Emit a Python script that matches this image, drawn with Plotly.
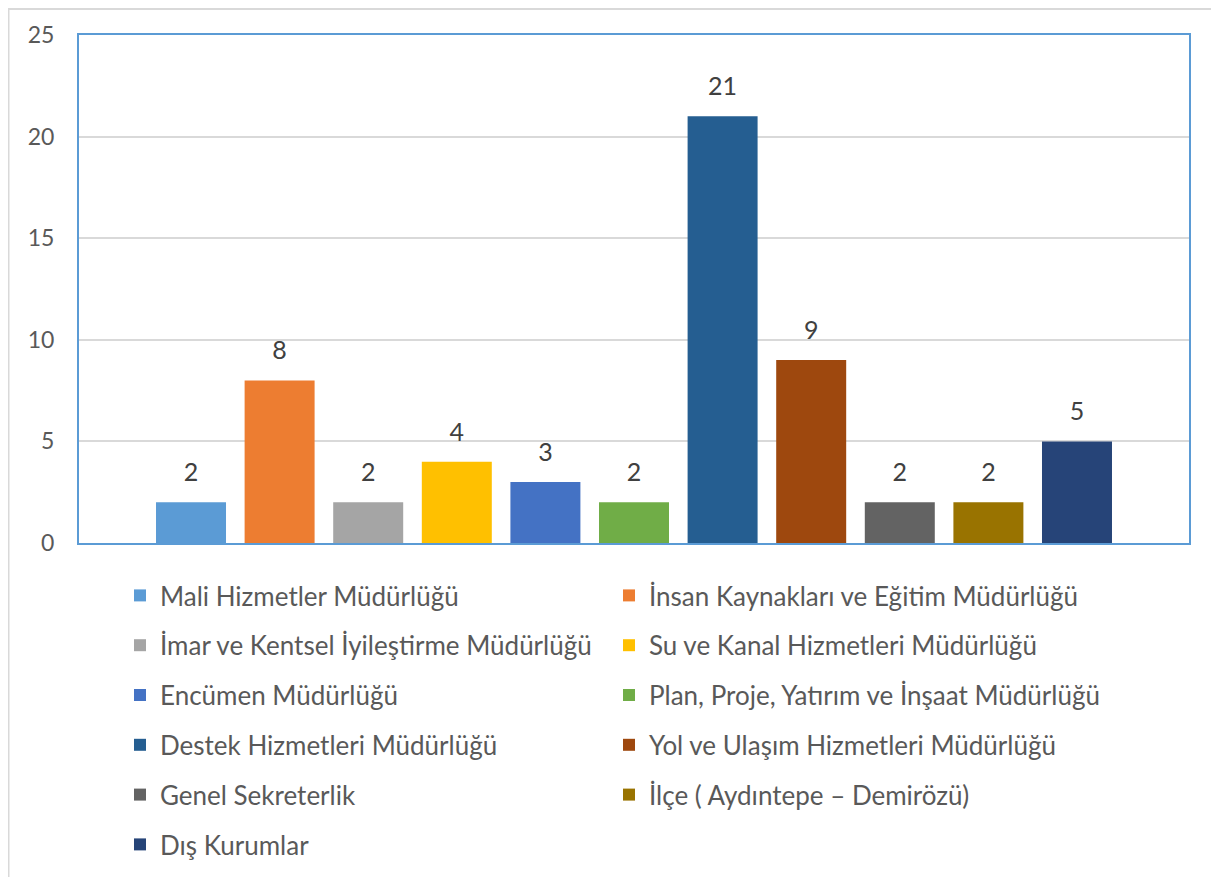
import plotly.graph_objects as go

# Departments (series) and counts
departments = [
    "Mali Hizmetler Müdürlüğü",
    "İnsan Kaynakları ve Eğitim Müdürlüğü",
    "İmar ve Kentsel İyileştirme Müdürlüğü",
    "Su ve Kanal Hizmetleri Müdürlüğü",
    "Encümen Müdürlüğü",
    "Plan, Proje, Yatırım ve İnşaat Müdürlüğü",
    "Destek Hizmetleri Müdürlüğü",
    "Yol ve Ulaşım Hizmetleri Müdürlüğü",
    "Genel Sekreterlik",
    "İlçe ( Aydıntepe – Demirözü)",
    "Dış Kurumlar",
]
counts = [2, 8, 2, 4, 3, 2, 21, 9, 2, 2, 5]
colors = [
    "#5B9BD5", "#ED7D31", "#A5A5A5", "#FFC000", "#4472C4", "#70AD47",
    "#255E91", "#9E480E", "#636363", "#997300", "#264478",
]

FONT = "Lato, Carlito, 'Liberation Sans', sans-serif"
TEXT_GREY = "#595959"

# the page body adds an 8px offset, so the figure is 8px smaller than the window
W, H = 1211, 869

fig = go.Figure()
for i, (name, val, col) in enumerate(zip(departments, counts, colors)):
    fig.add_trace(
        go.Bar(
            x=[""],
            y=[val],
            name=name,
            marker={"color": col, "line": {"width": 0}},
            legend="legend" if i % 2 == 0 else "legend2",
            legendgroup=f"g{i}",
            hoverinfo="name+y",
        )
    )

# data labels: grouped scatter points share the bars' slots; the invisible
# marker pushes the text a bit higher above the bar
for i, (name, val) in enumerate(zip(departments, counts)):
    fig.add_trace(
        go.Scatter(
            x=[""],
            y=[val],
            mode="markers+text",
            marker={"size": 22, "opacity": 0},
            text=[str(val)],
            textposition="top center",
            textfont={"size": 25, "color": "#404040", "family": FONT},
            cliponaxis=False,
            showlegend=False,
            hoverinfo="skip",
        )
    )

legend_common = dict(
    orientation="v",
    xref="container",
    yref="container",
    xanchor="left",
    yanchor="top",
    font={"size": 26, "color": TEXT_GREY, "family": FONT},
    tracegroupgap=13,
    bgcolor="rgba(0,0,0,0)",
    itemclick=False,
)

fig.update_layout(
    width=W,
    height=H,
    margin={"l": 71, "r": 30, "t": 27, "b": 334, "autoexpand": False},
    paper_bgcolor="white",
    plot_bgcolor="white",
    barmode="group",
    bargap=0.122,
    bargroupgap=0.21,
    scattermode="group",
    scattergap=0.122,
    font={"family": FONT, "color": TEXT_GREY},
    legend={**legend_common, "x": 112 / W, "y": 1 - 564 / H},
    legend2={**legend_common, "x": 601 / W, "y": 1 - 564 / H},
    xaxis={
        "showticklabels": False,
        "showgrid": False,
        "showline": True,
        "linecolor": "#5B9BD5",
        "linewidth": 2,
        "mirror": True,
        "zeroline": False,
    },
    yaxis={
        "range": [0, 25],
        "dtick": 5,
        "showgrid": True,
        "gridcolor": "#D9D9D9",
        "gridwidth": 1.5,
        "showline": True,
        "linecolor": "#5B9BD5",
        "linewidth": 2,
        "mirror": True,
        "zeroline": False,
        "tickfont": {"size": 23, "color": TEXT_GREY, "family": FONT},
        "ticklabelstandoff": 18,
    },
)

# light grey chart-area border
fig.add_shape(
    type="rect",
    xref="paper",
    yref="paper",
    x0=(8.5 - 79) / 1110,
    x1=(1216 - 79) / 1110,
    y0=(543 - 900) / 508,
    y1=(543 - 9) / 508,
    line={"color": "#D9D9D9", "width": 2},
    fillcolor="rgba(0,0,0,0)",
    layer="below",
)

fig.write_html("out.html")
